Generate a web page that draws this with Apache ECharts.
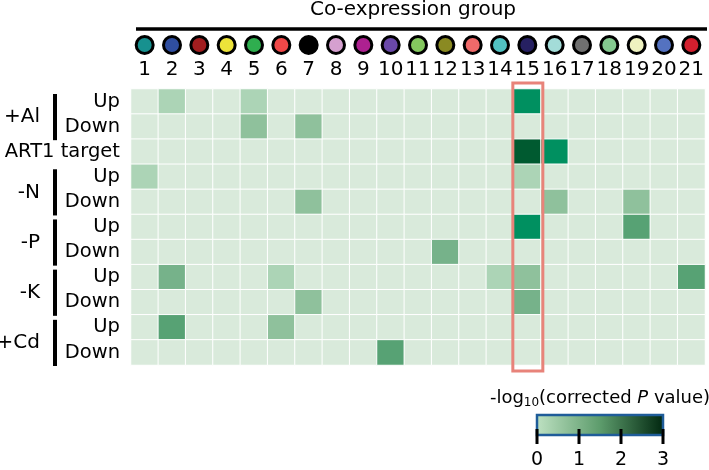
<!DOCTYPE html>
<html><head><meta charset="utf-8">
<script src="https://cdn.jsdelivr.net/npm/echarts@6/dist/echarts.min.js"></script>
<style>html,body{margin:0;padding:0;background:#fff}#c{width:709px;height:470px}</style>
</head><body><div id="c"></div>
<script>
// ---------- data ----------
const groupIds = ['1','2','3','4','5','6','7','8','9','10','11','12','13','14','15','16','17','18','19','20','21'];
const groupColors = ['#17918f','#2f4ea0','#a11d1f','#ece33a','#2fae4f','#f04848','#000000','#d5a0cf','#ad2190',
  '#6a48a8','#84c85e','#8a8a22','#ef6a6a','#52c2c2','#262062','#a3dcd8','#707070','#84c98f','#eef2c0','#5472c0','#d11f2e'];
const rowLabels = ['Up','Down','ART1 target','Up','Down','Up','Down','Up','Down','Up','Down'];
const treatmentNames = ['+Al','-N','-P','-K','+Cd'];
const treatmentRows = [[0,1],[3,4],[5,6],[7,8],[9,10]];
// -log10(corrected P value) per row, groups 1..21
const alUp   = [0,0.5,0,0,0.5,0,0,0,0,0,0,0,0,0,2.5,0,0,0,0,0,0];
const alDown = [0,0,0,0,1,0,1,0,0,0,0,0,0,0,0,0,0,0,0,0,0];
const art1   = [0,0,0,0,0,0,0,0,0,0,0,0,0,0,3,2.5,0,0,0,0,0];
const nUp    = [0.5,0,0,0,0,0,0,0,0,0,0,0,0,0,0.5,0,0,0,0,0,0];
const nDown  = [0,0,0,0,0,0,1,0,0,0,0,0,0,0,0,1,0,0,1,0,0];
const pUp    = [0,0,0,0,0,0,0,0,0,0,0,0,0,0,2.5,0,0,0,2,0,0];
const pDown  = [0,0,0,0,0,0,0,0,0,0,0,1.5,0,0,0,0,0,0,0,0,0];
const kUp    = [0,1.5,0,0,0,0.5,0,0,0,0,0,0,0,0.5,1,0,0,0,0,0,2];
const kDown  = [0,0,0,0,0,0,1,0,0,0,0,0,0,0,1.5,0,0,0,0,0,0];
const cdUp   = [0,2,0,0,0,1,0,0,0,0,0,0,0,0,0,0,0,0,0,0,0];
const cdDown = [0,0,0,0,0,0,0,0,0,2,0,0,0,0,0,0,0,0,0,0,0];
const colorbarTicks = [0,1,2,3];
const highlightGroup = '15';

// ---------- chart ----------
const rows = [alUp, alDown, art1, nUp, nDown, pUp, pDown, kUp, kDown, cdUp, cdDown];
const heatData = [];
rows.forEach((r, yi) => r.forEach((v, xi) => heatData.push([xi, yi, v])));

const FONT = 'DejaVu Sans';
const G = {left: 131, top: 89, width: 574, height: 276};
const chart = echarts.init(document.getElementById('c'), null, {renderer: 'canvas'});
chart.setOption({
  animation: false,
  backgroundColor: '#fff',
  textStyle: {fontFamily: FONT},
  grid: [
    {left: G.left, top: G.top, width: G.width, height: G.height},
    {left: G.left, top: 36, width: G.width, height: 18}
  ],
  xAxis: [
    {type: 'category', data: groupIds, gridIndex: 0, position: 'top',
     axisLine: {show: false}, axisTick: {show: false}, splitLine: {show: false},
     axisLabel: {interval: 0, fontSize: 20, color: '#000', margin: 9, fontFamily: FONT}},
    {type: 'category', data: groupIds, gridIndex: 1, show: false}
  ],
  yAxis: [
    {type: 'category', data: rowLabels, gridIndex: 0, inverse: true,
     axisLine: {show: false}, axisTick: {show: false}, splitLine: {show: false},
     axisLabel: {interval: 0, fontSize: 19.5, color: '#000', margin: 11, fontFamily: FONT}},
    {type: 'value', gridIndex: 1, min: 0, max: 1, show: false}
  ],
  visualMap: {
    show: false, min: 0, max: 3, seriesIndex: 0, dimension: 2,
    inRange: {color: ['#d9eadb','#acd4b6','#8fc19c','#76b28a','#57a274','#009060','#005a30']}
  },
  series: [
    {type: 'heatmap', xAxisIndex: 0, yAxisIndex: 0, data: heatData,
     itemStyle: {borderColor: '#fff', borderWidth: 1}, emphasis: {disabled: true}, silent: true},
    {type: 'scatter', xAxisIndex: 1, yAxisIndex: 1, symbol: 'circle', symbolSize: 17, silent: true,
     data: groupIds.map((g, i) => ({value: [i, 0.5], itemStyle: {color: groupColors[i]}})),
     itemStyle: {borderColor: '#000', borderWidth: 3, opacity: 1}}
  ]
});

// ---------- decorations ----------
const pix = (xi, yi) => chart.convertToPixel({gridIndex: 0}, [xi, yi]);
const rowH = G.height / rowLabels.length;
const gr = [];
gr.push({type: 'text', x: 413, y: 10, style: {text: 'Co-expression group', font: '20px "DejaVu Sans"', fill: '#000', textAlign: 'center', textVerticalAlign: 'middle'}});
gr.push({type: 'line', shape: {x1: 136, y1: 29, x2: 707, y2: 29}, style: {stroke: '#000', lineWidth: 3.5}});
treatmentNames.forEach((name, k) => {
  const [a, b] = treatmentRows[k];
  const top = pix(0, a)[1] - rowH / 2 + 5;
  const bot = pix(0, b)[1] + rowH / 2 + 1;
  gr.push({type: 'rect', shape: {x: 53, y: top, width: 4, height: bot - top}, style: {fill: '#000'}});
  gr.push({type: 'text', x: 40, y: (top + bot) / 2, style: {text: name, font: '20px "DejaVu Sans"', fill: '#000', textAlign: 'right', textVerticalAlign: 'middle'}});
});
const hx = pix(groupIds.indexOf(highlightGroup), 0)[0];
gr.push({type: 'rect', z: 10, shape: {x: hx - 14.5, y: G.top - 6, width: 30, height: G.height + 12},
  style: {fill: 'none', stroke: '#e8837a', lineWidth: 3}});
// colour bar
const cbL = 537, cbR = 663, cbT = 415, cbB = 435;
gr.push({type: 'text', x: 600, y: 398, style: {
  text: '-log{sub|10}(corrected {it|P} value)', font: '18px "DejaVu Sans"', fill: '#000', textAlign: 'center', textVerticalAlign: 'middle',
  rich: {sub: {fontSize: 12, fontFamily: FONT, padding: [9, 0, 0, 0]}, it: {fontStyle: 'italic', fontSize: 18, fontFamily: FONT}}}});
gr.push({type: 'rect', shape: {x: cbL, y: cbT, width: cbR - cbL, height: cbB - cbT}, style: {
  fill: new echarts.graphic.LinearGradient(0, 0, 1, 0, [{offset: 0, color: '#bfe2c3'}, {offset: 0.5, color: '#5d9c6c'}, {offset: 1, color: '#00260f'}]),
  stroke: '#1f5c99', lineWidth: 2.5}});
const tMin = colorbarTicks[0], tMax = colorbarTicks[colorbarTicks.length - 1];
colorbarTicks.forEach(t => {
  const x = cbL + (t - tMin) / (tMax - tMin) * (cbR - cbL);
  gr.push({type: 'line', shape: {x1: x, y1: cbB - 6, x2: x, y2: cbB + 9}, style: {stroke: '#000', lineWidth: 3}});
  gr.push({type: 'text', x: x, y: 460, style: {text: String(t), font: '19px "DejaVu Sans"', fill: '#000', textAlign: 'center', textVerticalAlign: 'middle'}});
});
chart.setOption({graphic: gr});
</script></body></html>
